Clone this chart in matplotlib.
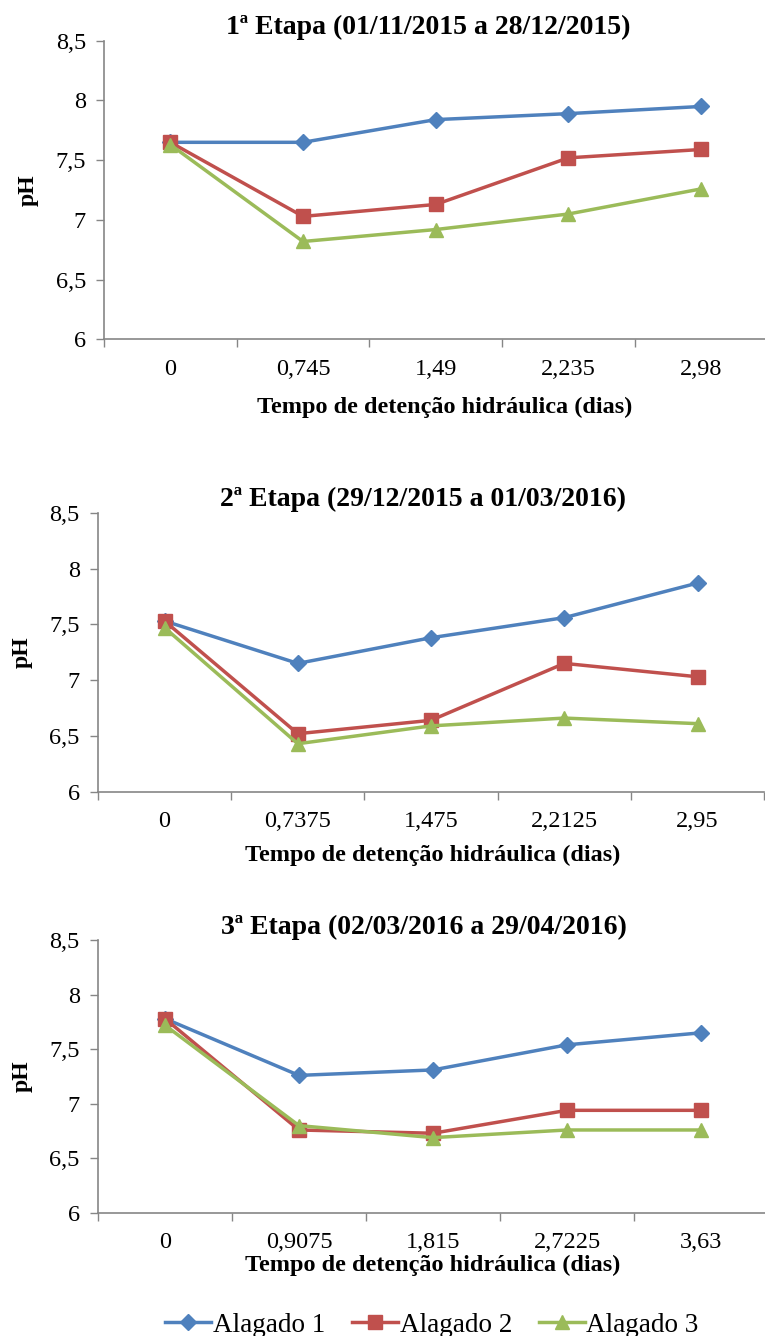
import matplotlib
matplotlib.use("Agg")
import matplotlib.pyplot as plt

plt.rcParams["font.family"] = ["Liberation Serif", "DejaVu Serif"]

# ---- data ----
SERIES = ["Alagado 1", "Alagado 2", "Alagado 3"]
COLORS = ["#4F81BD", "#C0504D", "#9BBB59"]
MARKERS = ["D", "s", "^"]

titles = [
    "1ª Etapa (01/11/2015 a 28/12/2015)",
    "2ª Etapa (29/12/2015 a 01/03/2016)",
    "3ª Etapa (02/03/2016 a 29/04/2016)",
]

tdh_1 = ["0", "0,745", "1,49", "2,235", "2,98"]
tdh_2 = ["0", "0,7375", "1,475", "2,2125", "2,95"]
tdh_3 = ["0", "0,9075", "1,815", "2,7225", "3,63"]

ph_1 = [
    [7.65, 7.65, 7.84, 7.89, 7.95],
    [7.65, 7.03, 7.13, 7.52, 7.59],
    [7.63, 6.82, 6.92, 7.05, 7.26],
]
ph_2 = [
    [7.53, 7.15, 7.38, 7.56, 7.87],
    [7.53, 6.52, 6.64, 7.15, 7.03],
    [7.47, 6.43, 6.59, 6.66, 6.61],
]
ph_3 = [
    [7.78, 7.26, 7.31, 7.54, 7.65],
    [7.78, 6.76, 6.73, 6.94, 6.94],
    [7.72, 6.80, 6.69, 6.76, 6.76],
]

y_ticks = [6, 6.5, 7, 7.5, 8, 8.5]
y_ticklabels = ["6", "6,5", "7", "7,5", "8", "8,5"]

XLABEL = "Tempo de detenção hidráulica (dias)"

# ---- layout (figure fractions) ----
panels = [
    # rect, title pad, xlabel pad, title x, xlabel x
    ([0.136, 0.7459, 0.867, 0.2236], 5, 12, 0.489, 0.513),
    ([0.128, 0.4074, 0.871, 0.2088], 5, 9, 0.488, 0.503),
    ([0.128, 0.0921, 0.876, 0.2043], 3, 1, 0.487, 0.500),
]

fig = plt.figure(figsize=(7.65, 13.36), dpi=100)
gray = "#868686"

for (rect, tpad, xpad, tx, lx), title, cats, data in zip(
    panels, titles, [tdh_1, tdh_2, tdh_3], [ph_1, ph_2, ph_3]
):
    ax = fig.add_axes(rect)
    x = list(range(len(cats)))
    for vals, name, c, m in zip(data, SERIES, COLORS, MARKERS):
        ms = 9.5 if m == "s" else (8.5 if m == "D" else 10.5)
        ax.plot(x, vals, color=c, lw=2.5, marker=m, ms=ms, mfc=c, mec=c, label=name)

    ax.set_xlim(-0.5, len(cats) - 0.5)
    ax.set_ylim(6, 8.5)
    ax.set_yticks(y_ticks)
    ax.set_yticklabels(y_ticklabels, fontsize=17.5)
    ax.set_xticks(x)
    ax.set_xticklabels(cats, fontsize=17.5)
    # category separators as tick marks
    ax.set_xticks([i - 0.5 for i in range(len(cats) + 1)], minor=True)
    ax.tick_params(axis="x", which="major", length=0, pad=14)
    ax.tick_params(axis="x", which="minor", length=6, color=gray, width=1)
    ax.tick_params(axis="y", length=6, color=gray, width=1, pad=7)

    for side in ("top", "right"):
        ax.spines[side].set_visible(False)
    for side in ("left", "bottom"):
        ax.spines[side].set_color(gray)
        ax.spines[side].set_linewidth(1.2)

    ax.set_title(title, fontsize=20, fontweight="bold", pad=tpad, x=tx)
    ax.set_xlabel(XLABEL, fontsize=17.5, fontweight="bold", labelpad=xpad, x=lx)
    ax.set_ylabel("pH", fontsize=17, fontweight="bold", labelpad=12)

handles, labels = ax.get_legend_handles_labels()
fig.legend(
    handles, labels, loc="center", ncol=3, frameon=False,
    bbox_to_anchor=(432 / 765, 1 - 1325 / 1336),
    fontsize=19.5, handlelength=1.7, columnspacing=1.0, handletextpad=0.05,
)

fig.savefig("out.png", dpi=100)
